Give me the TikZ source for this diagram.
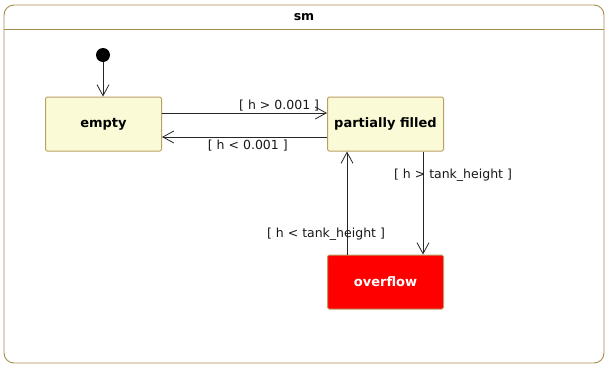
\documentclass[tikz,border=0pt]{standalone}
\usepackage{fontspec}
\setmainfont{DejaVu Sans}
\usetikzlibrary{arrows.meta}
\definecolor{frameC}{RGB}{168,140,80}
\definecolor{stateFill}{RGB}{250,250,215}
\definecolor{stateDraw}{RGB}{185,160,100}
\tikzset{
  statebox/.style={draw=stateDraw, fill=stateFill, line width=1pt, rounded corners=1.5pt,
    minimum width=116pt, minimum height=54pt, inner sep=0pt, font=\fontsize{13}{16}\selectfont\bfseries},
  redbox/.style={statebox, fill=red, text=white},
  trans/.style={draw=black!85, line width=0.8pt, -{Straight Barb[length=11pt,width=12pt,line width=0.8pt]}},
  guard/.style={font=\fontsize{12.5}{15}\selectfont, inner sep=1pt, text=black!90}
}
\begin{document}
\begin{tikzpicture}[x=1pt,y=-1pt]
\useasboundingbox (0,0) rectangle (606,365);
\draw[frameC, line width=0.9pt, rounded corners=10pt] (4,5) rectangle (604,363);
\draw[frameC, line width=0.9pt] (4,29) -- (604,29);
\node[font=\fontsize{12.5}{15}\selectfont\bfseries] (title) at (304,17) {sm};
\node[circle, fill=black, inner sep=0pt, minimum size=14pt] (init) at (103,55) {};
\node[statebox] (empty) at (103.5,124) {empty};
\node[statebox] (pf) at (385.5,124) {partially filled};
\node[redbox] (ov) at (385.5,282) {overflow};
\draw[trans] (init) -- (empty.north -| init);
\draw[trans] ([yshift=11pt]empty.east) -- ([yshift=11pt]pf.west) node[guard, pos=0.71, above, yshift=0pt] {[ h > 0.001 ]};
\draw[trans] ([yshift=-13pt]pf.west) -- ([yshift=-13pt]empty.east) node[guard, pos=0.48, below, yshift=-1.5pt] {[ h < 0.001 ]};
\draw[trans] (ov.north -| 347,0) coordinate (a) -- (a |- pf.south);
\draw[trans] (pf.south -| 423,0) coordinate (b) -- (b |- ov.north);
\node[guard] (g3) at (326,234) {[ h < tank\_height ]};
\node[guard] (g4) at (453,175) {[ h > tank\_height ]};
\end{tikzpicture}
\end{document}
